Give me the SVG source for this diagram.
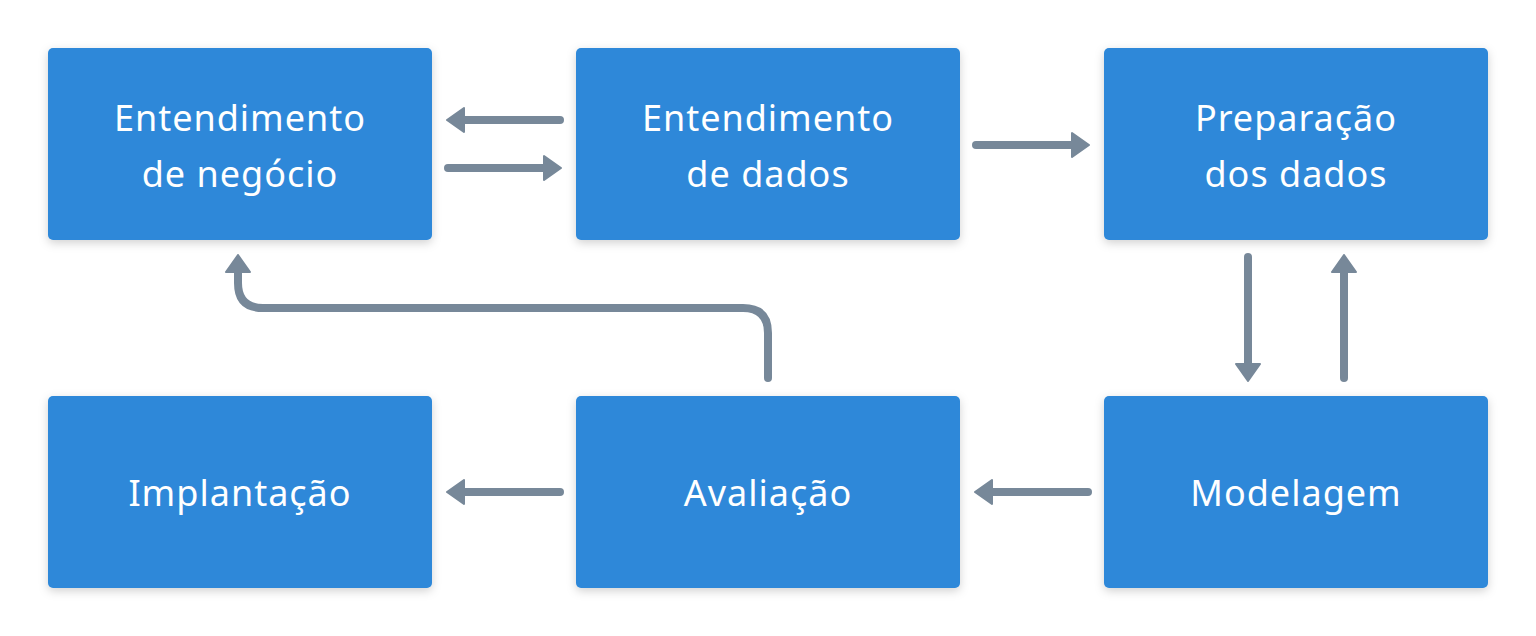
<svg xmlns="http://www.w3.org/2000/svg" width="1536" height="636" viewBox="0 0 1536 636">
<style>
.box{fill:#2d88d9;filter:url(#sh)}
.t{fill:#ffffff;font-family:"Noto Sans","DejaVu Sans",sans-serif;font-size:36px;text-anchor:middle;letter-spacing:1px}
.c{fill:none;stroke:#778899;stroke-width:8;stroke-linecap:round;stroke-linejoin:round}
</style>
<defs>
<filter id="sh" x="-10%" y="-10%" width="120%" height="130%">
<feDropShadow dx="0" dy="3" stdDeviation="5" flood-color="#000" flood-opacity="0.18"/>
</filter>
<marker id="ah" viewBox="0 0 19 28" refX="1" refY="14" markerWidth="19" markerHeight="28" markerUnits="userSpaceOnUse" orient="auto">
<path d="M1,2 L1,26 L18,14 Z" fill="#778899" stroke="#778899" stroke-width="2" stroke-linejoin="round"/>
</marker>
</defs>
<rect width="1536" height="636" fill="#ffffff"/>
<g id="n1"><rect class="box" x="48" y="48" width="384" height="192" rx="5"/><text class="t" x="240" y="131">Entendimento</text><text class="t" x="240" y="187">de negócio</text></g>
<g id="n2"><rect class="box" x="576" y="48" width="384" height="192" rx="5"/><text class="t" x="768" y="131">Entendimento</text><text class="t" x="768" y="187">de dados</text></g>
<g id="n3"><rect class="box" x="1104" y="48" width="384" height="192" rx="5"/><text class="t" x="1296" y="131">Preparação</text><text class="t" x="1296" y="187">dos dados</text></g>
<g id="n4"><rect class="box" x="48" y="396" width="384" height="192" rx="5"/><text class="t" x="240" y="506">Implantação</text></g>
<g id="n5"><rect class="box" x="576" y="396" width="384" height="192" rx="5"/><text class="t" x="768" y="506">Avaliação</text></g>
<g id="n6"><rect class="box" x="1104" y="396" width="384" height="192" rx="5"/><text class="t" x="1296" y="506">Modelagem</text></g>
<g id="connectors">
<path class="c" d="M560,120 L464,120" marker-end="url(#ah)"/>
<path class="c" d="M448,168 L544,168" marker-end="url(#ah)"/>
<path class="c" d="M976,145 L1072,145" marker-end="url(#ah)"/>
<path class="c" d="M1248,257 L1248,364" marker-end="url(#ah)"/>
<path class="c" d="M1344,378 L1344,272" marker-end="url(#ah)"/>
<path class="c" d="M560,492 L464,492" marker-end="url(#ah)"/>
<path class="c" d="M1088,492 L992,492" marker-end="url(#ah)"/>
<path class="c" d="M768,378 L768,333 Q768,308 743,308 L263,308 Q238,308 238,283 L238,272" marker-end="url(#ah)"/>
</g>
</svg>
